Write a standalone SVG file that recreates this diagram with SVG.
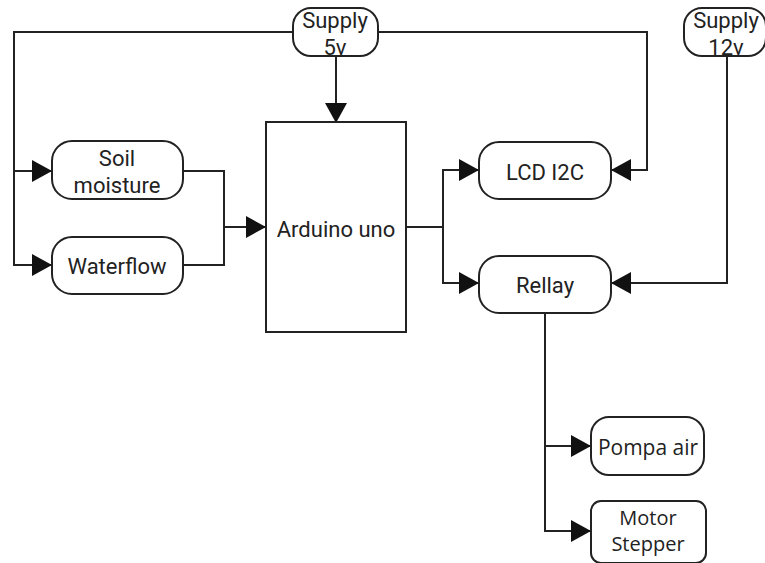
<svg xmlns="http://www.w3.org/2000/svg" width="765" height="563" viewBox="0 0 765 563">
<style>
.box{fill:#fff;stroke:#222;stroke-width:2}
.ln{fill:none;stroke:#222;stroke-width:2}
.t{font-family:Roboto,"Liberation Sans",sans-serif;font-size:22px;fill:#222;text-anchor:middle}
.o{font-family:"Open Sans","Liberation Sans",sans-serif;font-size:20px;fill:#222;text-anchor:middle}
</style>
<defs>
<marker id="ah" viewBox="0 0 20 22" refX="20" refY="11" markerWidth="20" markerHeight="22" markerUnits="userSpaceOnUse" orient="auto">
<path d="M0,0 L20,11 L0,22 Z" fill="#111"/>
</marker>
</defs>
<g id="connectors">
<path class="ln" d="M293,32 H14 V171 H52" marker-end="url(#ah)"/>
<path class="ln" d="M14,171 V265 H52" marker-end="url(#ah)"/>
<path class="ln" d="M336,56 V123" marker-end="url(#ah)"/>
<path class="ln" d="M378,32 H647 V170 H611" marker-end="url(#ah)"/>
<path class="ln" d="M727,56 V283 H611" marker-end="url(#ah)"/>
<path class="ln" d="M183,171 H224 V265 H183"/>
<path class="ln" d="M224,227 H266" marker-end="url(#ah)"/>
<path class="ln" d="M406,227 H443 V170 H479" marker-end="url(#ah)"/>
<path class="ln" d="M443,227 V283 H479" marker-end="url(#ah)"/>
<path class="ln" d="M545,313 V446 H591" marker-end="url(#ah)"/>
<path class="ln" d="M545,446 V531 H591" marker-end="url(#ah)"/>
</g>
<g id="supply5v">
<rect class="box" x="293" y="8" width="85" height="48" rx="18"/>
<text class="t" x="335" y="28">Supply</text>
<text class="t" x="335" y="55">5v</text>
</g>
<g id="supply12v">
<rect class="box" x="684" y="8" width="82" height="48" rx="18"/>
<text class="t" x="726" y="28">Supply</text>
<text class="t" x="726" y="55">12v</text>
</g>
<g id="soil">
<rect class="box" x="52" y="141" width="131" height="58" rx="20"/>
<text class="t" x="117" y="166">Soil</text>
<text class="t" x="117" y="193">moisture</text>
</g>
<g id="waterflow">
<rect class="box" x="52" y="237" width="131" height="57" rx="20"/>
<text class="t" x="117" y="274">Waterflow</text>
</g>
<g id="arduino">
<rect class="box" x="266" y="122" width="140" height="210"/>
<text class="t" x="336" y="237">Arduino uno</text>
</g>
<g id="lcd">
<rect class="box" x="479" y="142" width="132" height="57" rx="20"/>
<text class="t" x="545" y="180">LCD I2C</text>
</g>
<g id="rellay">
<rect class="box" x="479" y="256" width="132" height="57" rx="20"/>
<text class="t" x="545" y="293">Rellay</text>
</g>
<g id="pompa">
<rect class="box" x="591" y="417" width="113" height="58" rx="18"/>
<text class="o" x="648" y="455" style="font-size:21px">Pompa air</text>
</g>
<g id="motor">
<rect class="box" x="591" y="501" width="115" height="62" rx="10"/>
<text class="o" x="648" y="525">Motor</text>
<text class="o" x="648" y="551">Stepper</text>
</g>
</svg>
